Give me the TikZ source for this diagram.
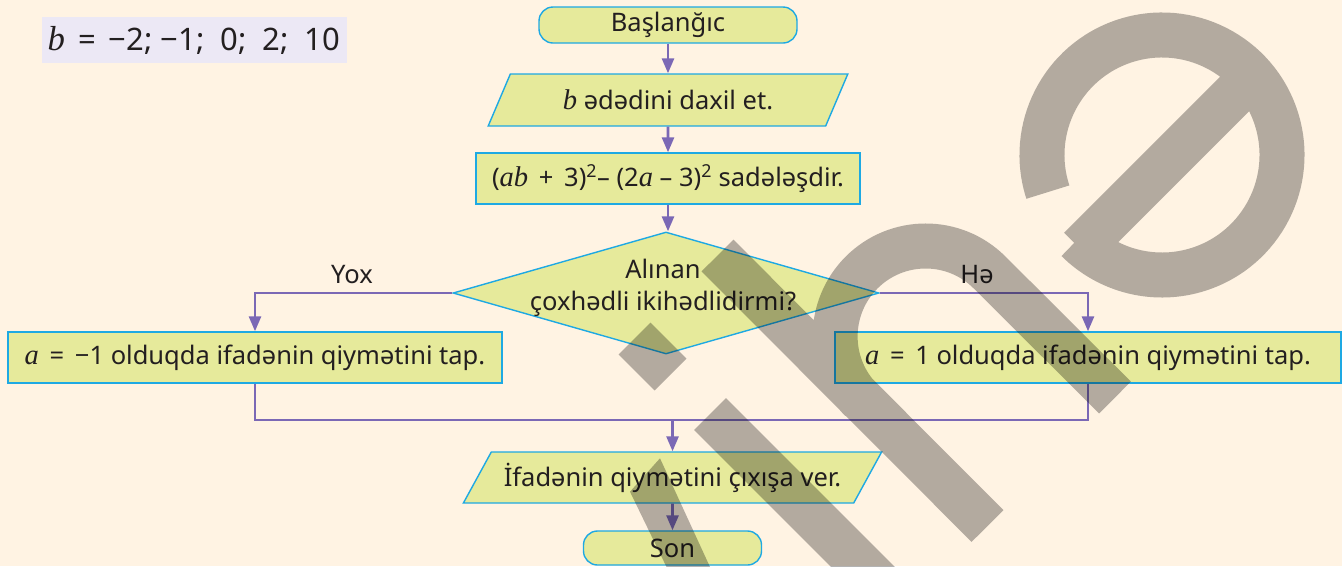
\documentclass[tikz,border=0pt]{standalone}
\usepackage{fontspec}
\setmainfont{Noto Sans}
\newfontfamily\serifit{Liberation Serif}[Scale=1.12]
\newcommand{\vx}[1]{{\serifit\itshape #1}}
\newcommand{\eqsp}{\hspace{0.42em}}
\usetikzlibrary{shapes.geometric,arrows.meta}
\definecolor{bg}{HTML}{FFF3E3}
\definecolor{lav}{HTML}{ECE8F5}
\definecolor{boxfill}{HTML}{E6EA9B}
\definecolor{bordercol}{HTML}{1EA9E3}
\definecolor{arrowcol}{HTML}{7B68B5}
\definecolor{txt}{HTML}{231F20}
\definecolor{wmgray}{HTML}{B3B3B3}
\tikzset{
  box/.style={draw=bordercol, line width=1.4pt, fill=boxfill, inner sep=0pt, text=txt},
  proc/.style={box, rectangle, minimum height=51pt},
  term/.style={box, rectangle, rounded corners=14pt},
  io/.style={box, trapezium, trapezium stretches=true},
  decision/.style={box, diamond, minimum width=426pt, minimum height=122pt},
  lbl/.style={text=txt, inner sep=0pt},
  line/.style={draw=arrowcol, line width=2.7pt},
  conn/.style={line, -{Triangle[length=15pt,width=12pt]}},
  wm/.style={draw=wmgray, line width=45pt, line cap=butt, blend mode=multiply},
  wmfill/.style={fill=wmgray, blend mode=multiply}
}
\begin{document}
\begin{tikzpicture}[x=1pt,y=-1pt,font=\fontsize{25.5}{32}\selectfont]
\useasboundingbox (0,0) rectangle (1342,566);
\fill[bg] (0,0) rectangle (1342,566);

\node[fill=lav, minimum width=305pt, minimum height=46pt, inner sep=0pt, text=txt,
  font=\fontsize{31}{36}\selectfont] (bval) at (194,40)
  {\vx{b}\eqsp=\eqsp−2; −1;\ \ 0;\ \ 2;\ \ 10};

\node[term, minimum width=258pt, minimum height=36pt] (start) at (668,25) {Başlanğıc};
\node[io, minimum width=360pt, minimum height=52pt,
  trapezium left angle=53.8, trapezium right angle=126.2] (input) at (668,100)
  {\vx{b} ədədini daxil et.};
\node[proc, minimum width=384pt] (simp) at (668,178.5)
  {(\vx{ab}\eqsp+\eqsp3)\textsuperscript{2}– (2\vx{a} – 3)\textsuperscript{2} sadələşdir.};
\node[decision] (dec) at (666,293) {};
\node[lbl, align=center] (dectext) at (663,288) {Alınan\\çoxhədli ikihədlidirmi?};
\node[proc, minimum width=494pt] (left) at (255,357.5)
  {\vx{a}\eqsp=\eqsp−1 olduqda ifadənin qiymətini tap.};
\node[proc, minimum width=506pt] (right) at (1088,357.5)
  {\vx{a}\eqsp=\eqsp1 olduqda ifadənin qiymətini tap.};
\node[io, minimum width=419pt, minimum height=51pt,
  trapezium left angle=48.6, trapezium right angle=131.4] (output) at (672.5,477.5)
  {İfadənin qiymətini çıxışa ver.};
\node[term, minimum width=178pt, minimum height=34pt] (stop) at (672.5,548) {Son};

\node[lbl] (yox) at (352,275) {Yox};
\node[lbl] (he) at (977,275) {Hə};

\coordinate (my) at (0,420);
\draw[conn] (start) -- (input);
\draw[conn] (input) -- (simp);
\draw[conn] (simp.south) -- (simp.south |- dec.north);
\draw[conn] (dec.west) -| (left.north);
\draw[conn] (dec.east) -| (right.north);
\draw[line] (left.south) |- (right.south |- my) -- (right.south);
\draw[conn] (output.north |- my) -- (output.north);
\draw[conn] (output) -- (stop);

\begin{scope}
\clip (0,0) rectangle (1342,566);
\draw[wm] (634.5,338.5) -- (670.5,374.5)
  (717.5,255.5) -- (987.5,526)
  (1115,397.5) -- (989.6,272.5) arc[start angle=-45, end angle=-225, radius=90.5]
  (710,414) -- (890,594)
  (1162,155) ++(162:120) arc[start angle=162, end angle=495, radius=120]
  (1080,248.6) -- (1245.5,83.1);
\fill[wmfill] (630,491.7) -- (660,458.3) -- (720.6,590) -- (677.7,590) -- cycle;
\end{scope}
\end{tikzpicture}
\end{document}
